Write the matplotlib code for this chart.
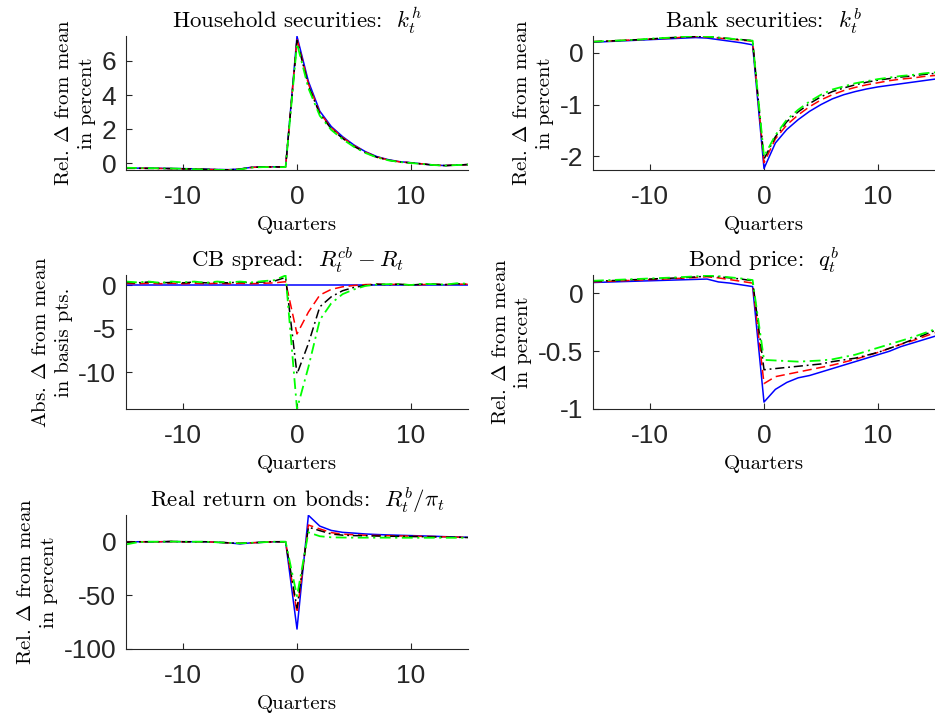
import matplotlib
matplotlib.use("Agg")
import matplotlib.pyplot as plt
import numpy as np

plt.rcParams['mathtext.fontset'] = 'cm'
plt.rcParams['axes.unicode_minus'] = False

quarters = np.arange(-15, 16)

# Household securities k^h
kh_blue = [-0.30, -0.30, -0.30, -0.31, -0.32, -0.33, -0.34, -0.36, -0.38, -0.39, -0.35, -0.25, -0.22, -0.22, -0.22,
           7.45, 4.80, 3.05, 2.15, 1.55, 1.06, 0.67, 0.38, 0.20, 0.08, 0.02, -0.05, -0.12, -0.15, -0.12, -0.09]
kh_red = [-0.31, -0.31, -0.31, -0.32, -0.33, -0.34, -0.35, -0.37, -0.39, -0.40, -0.36, -0.26, -0.23, -0.23, -0.23,
          7.30, 4.65, 2.95, 2.08, 1.50, 1.02, 0.64, 0.36, 0.18, 0.07, 0.01, -0.05, -0.12, -0.15, -0.12, -0.09]
kh_black = [-0.31, -0.31, -0.32, -0.32, -0.33, -0.34, -0.35, -0.37, -0.39, -0.40, -0.36, -0.26, -0.23, -0.23, -0.23,
            7.20, 4.55, 2.88, 2.02, 1.45, 0.98, 0.61, 0.34, 0.17, 0.06, 0.01, -0.06, -0.12, -0.15, -0.12, -0.09]
kh_green = [-0.28, -0.29, -0.30, -0.31, -0.32, -0.34, -0.36, -0.38, -0.40, -0.41, -0.37, -0.27, -0.24, -0.24, -0.24,
            7.02, 4.40, 2.78, 1.95, 1.40, 0.95, 0.59, 0.33, 0.16, 0.06, 0.00, -0.06, -0.12, -0.15, -0.12, -0.09]

# Bank securities k^b
kb_blue = [0.20, 0.21, 0.22, 0.23, 0.24, 0.25, 0.26, 0.27, 0.28, 0.29, 0.28, 0.25, 0.22, 0.19, 0.15,
           -2.23, -1.74, -1.48, -1.29, -1.13, -1.00, -0.89, -0.81, -0.75, -0.70, -0.66, -0.63, -0.60, -0.57, -0.54, -0.51]
kb_red = [0.21, 0.22, 0.23, 0.24, 0.25, 0.26, 0.27, 0.28, 0.30, 0.31, 0.30, 0.28, 0.26, 0.24, 0.22,
          -2.12, -1.66, -1.39, -1.20, -1.04, -0.91, -0.81, -0.73, -0.67, -0.62, -0.58, -0.54, -0.51, -0.49, -0.46, -0.44]
kb_black = [0.21, 0.22, 0.23, 0.24, 0.25, 0.26, 0.28, 0.29, 0.30, 0.31, 0.31, 0.29, 0.27, 0.25, 0.23,
            -2.05, -1.62, -1.33, -1.14, -0.98, -0.85, -0.75, -0.68, -0.62, -0.57, -0.53, -0.50, -0.47, -0.45, -0.42, -0.40]
kb_green = [0.21, 0.22, 0.23, 0.24, 0.25, 0.27, 0.28, 0.29, 0.31, 0.32, 0.31, 0.29, 0.27, 0.25, 0.23,
            -2.00, -1.59, -1.29, -1.10, -0.94, -0.81, -0.71, -0.65, -0.59, -0.55, -0.51, -0.48, -0.45, -0.43, -0.40, -0.38]

# CB spread R^cb - R (basis points)
cb_blue = [0.0] * 31
cb_red = [0.20, 0.15, 0.20, 0.15, 0.20, 0.15, 0.20, 0.15, 0.20, 0.15, 0.20, 0.15, 0.20, 0.25, 0.38,
          -5.60, -3.10, -1.15, -0.50, -0.20, -0.05, 0.05, 0.10, 0.05, 0.10, 0.00, 0.05, 0.10, 0.05, 0.10, 0.10]
cb_black = [0.30, 0.25, 0.35, 0.25, 0.30, 0.25, 0.35, 0.25, 0.30, 0.25, 0.35, 0.25, 0.35, 0.45, 0.88,
            -10.20, -6.70, -2.50, -1.35, -0.65, -0.27, -0.05, 0.10, 0.05, 0.10, 0.00, 0.10, 0.10, 0.05, 0.15, 0.10]
cb_green = [0.40, 0.30, 0.40, 0.25, 0.40, 0.30, 0.40, 0.25, 0.40, 0.30, 0.40, 0.30, 0.45, 0.55, 1.10,
            -14.20, -9.40, -4.00, -2.10, -1.04, -0.50, -0.10, 0.05, 0.10, 0.10, 0.00, 0.15, 0.10, 0.05, 0.20, 0.15]

# Bond price q^b
q_blue = [0.095, 0.098, 0.101, 0.104, 0.107, 0.110, 0.113, 0.116, 0.119, 0.122, 0.125, 0.100, 0.090, 0.075, 0.060,
          -0.94, -0.83, -0.77, -0.73, -0.71, -0.68, -0.65, -0.62, -0.59, -0.56, -0.53, -0.50, -0.46, -0.43, -0.40, -0.37]
q_red = [0.100, 0.104, 0.108, 0.112, 0.116, 0.120, 0.124, 0.128, 0.133, 0.138, 0.145, 0.135, 0.120, 0.105, 0.090,
         -0.78, -0.72, -0.70, -0.68, -0.66, -0.64, -0.62, -0.595, -0.57, -0.54, -0.51, -0.475, -0.44, -0.41, -0.375, -0.34]
q_black = [0.105, 0.109, 0.113, 0.117, 0.121, 0.125, 0.129, 0.133, 0.138, 0.143, 0.150, 0.145, 0.135, 0.125, 0.110,
           -0.66, -0.65, -0.64, -0.63, -0.62, -0.61, -0.59, -0.575, -0.56, -0.535, -0.51, -0.475, -0.44, -0.40, -0.36, -0.32]
q_green = [0.110, 0.114, 0.118, 0.122, 0.126, 0.130, 0.134, 0.138, 0.143, 0.148, 0.155, 0.150, 0.140, 0.130, 0.116,
           -0.575, -0.58, -0.585, -0.59, -0.585, -0.58, -0.57, -0.55, -0.53, -0.50, -0.47, -0.44, -0.41, -0.38, -0.345, -0.31]

# Real return on bonds R^b / pi
rr_blue = [-1.0, -0.5, -0.5, -0.5, -0.3, -0.5, -0.5, -0.5, -1.0, -1.5, -2.5, -1.5, -1.0, -0.5, -0.5,
           -81.5, 24.0, 14.0, 10.0, 8.2, 7.5, 6.7, 6.2, 5.8, 5.5, 5.2, 4.9, 4.6, 4.2, 3.9, 3.6]
rr_red = [-1.0, -0.5, -0.5, -0.5, -0.3, -0.5, -0.5, -0.5, -1.0, -1.5, -2.0, -1.5, -1.0, -0.5, -0.5,
          -66.5, 15.0, 11.4, 8.0, 6.5, 6.0, 5.5, 5.3, 5.1, 4.9, 4.7, 4.5, 4.3, 4.0, 3.8, 3.5]
rr_black = [-1.0, -0.5, -0.5, -0.5, -0.3, -0.5, -0.5, -0.5, -1.0, -1.5, -2.0, -1.5, -1.0, -0.5, -0.5,
            -62.0, 13.0, 9.8, 6.7, 5.6, 5.2, 5.0, 4.8, 4.6, 4.5, 4.3, 4.2, 4.0, 3.8, 3.6, 3.4]
rr_green = [-3.0, -1.0, -0.5, -0.5, -0.3, -0.5, -0.5, -0.5, -1.0, -1.5, -2.0, -1.5, -1.0, -0.5, -0.5,
            -51.0, 8.2, 4.6, 3.6, 3.4, 3.3, 3.3, 3.3, 3.3, 3.2, 3.2, 3.2, 3.2, 3.2, 3.2, 3.2]

panels = [
    ("Household securities:  $k_t^h$", "Rel. $\\Delta$ from mean\nin percent",
     [kh_blue, kh_red, kh_black, kh_green], (-0.41, 7.47), [0, 2, 4, 6], ["0", "2", "4", "6"]),
    ("Bank securities:  $k_t^b$", "Rel. $\\Delta$ from mean\nin percent",
     [kb_blue, kb_red, kb_black, kb_green], (-2.26, 0.32), [-2, -1, 0], ["-2", "-1", "0"]),
    ("CB spread:  $R_t^{cb} - R_t$", "Abs. $\\Delta$ from mean\nin basis pts.",
     [cb_blue, cb_red, cb_black, cb_green], (-14.2, 1.15), [-10, -5, 0], ["-10", "-5", "0"]),
    ("Bond price:  $q_t^b$", "Rel. $\\Delta$ from mean\nin percent",
     [q_blue, q_red, q_black, q_green], (-1.0, 0.16), [-1, -0.5, 0], ["-1", "-0.5", "0"]),
    ("Real return on bonds:  $R_t^b/\\pi_t$", "Rel. $\\Delta$ from mean\nin percent",
     [rr_blue, rr_red, rr_black, rr_green], (-100, 24.3), [-100, -50, 0], ["-100", "-50", "0"]),
]

styles = [dict(color='#0000ff', ls='-', lw=1.1),
          dict(color='#ff0000', ls=(0, (6, 3)), lw=1.1),
          dict(color='#000000', ls=(0, (6, 2.5, 1.2, 2.5)), lw=1.1),
          dict(color='#00ff00', ls=(0, (6, 2.5, 1.2, 2.5)), lw=1.3)]

W, H = 935, 720
lefts = [126, 593]
tops = [36, 275, 515]
aw, ah = 342, 134

fig = plt.figure(figsize=(W / 100, H / 100), dpi=100)
grey = '#262626'
for i, (title, ylab, series, ylim, yt, ytl) in enumerate(panels):
    r, c = divmod(i, 2)
    ax = fig.add_axes([lefts[c] / W, 1 - (tops[r] + ah) / H, aw / W, ah / H])
    for s, st in zip(series, styles):
        ax.plot(quarters, s, **st)
    ax.set_xlim(-15, 15)
    ax.set_ylim(*ylim)
    ax.set_xticks([-10, 0, 10])
    ax.set_xticklabels(["-10", "0", "10"])
    ax.set_yticks(yt)
    ax.set_yticklabels(ytl)
    for sp in ['top', 'right']:
        ax.spines[sp].set_visible(False)
    for sp in ['left', 'bottom']:
        ax.spines[sp].set_color(grey)
        ax.spines[sp].set_linewidth(0.8)
    ax.tick_params(direction='in', length=4, width=0.8, color=grey, labelcolor=grey,
                   labelsize=19)
    ax.tick_params(axis='x', pad=11)
    ax.tick_params(axis='y', pad=7)
    for lab in ax.get_xticklabels() + ax.get_yticklabels():
        lab.set_family('Liberation Sans')
    ax.set_title(title, family='cmr10', fontsize=16.5, pad=5)
    ax.set_xlabel("Quarters", family='cmr10', fontsize=15, labelpad=5)
    ax.set_ylabel(ylab, family='cmr10', fontsize=15, labelpad=4, linespacing=1.35)

fig.savefig("out.png", dpi=100)
